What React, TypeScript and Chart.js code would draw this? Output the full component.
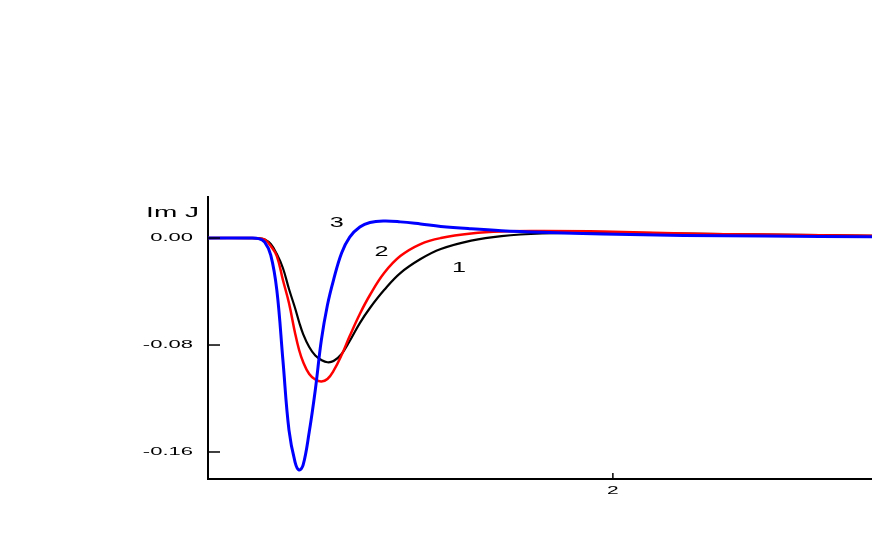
import React, { useEffect, useRef } from "react";
import { Chart, registerables } from "chart.js";

Chart.register(...registerables);

// x positions (data units)
const xValues = [0, 0.2, 0.25, 0.28, 0.31, 0.34, 0.37, 0.4, 0.43, 0.45, 0.47, 0.5, 0.53, 0.56, 0.59, 0.62, 0.66, 0.7, 0.75, 0.8, 0.87, 0.95, 1.05, 1.15, 1.3, 1.45, 1.65, 1.95, 2.35, 2.75, 3.3];

// curve 1 (black)
const curve1 = [0, 0, -0.0002, -0.0011, -0.0045, -0.012, -0.0224, -0.0381, -0.0523, -0.0628, -0.0718, -0.0815, -0.0879, -0.0912, -0.0929, -0.092, -0.0867, -0.077, -0.0636, -0.0523, -0.0389, -0.0262, -0.0157, -0.0082, -0.0019, 0.0015, 0.0034, 0.0041, 0.0034, 0.0026, 0.0017];

// curve 2 (red)
const curve2 = [0, 0, -0.0002, -0.0011, -0.006, -0.0135, -0.0314, -0.0486, -0.071, -0.0837, -0.0927, -0.1017, -0.1058, -0.1073, -0.1054, -0.0994, -0.0875, -0.0733, -0.0568, -0.0426, -0.0262, -0.0135, -0.0045, 0.0, 0.0034, 0.0049, 0.0052, 0.0049, 0.0034, 0.0026, 0.0017];

// curve 3 (blue)
const curve3 = [0, 0, -0.0004, -0.003, -0.0127, -0.0389, -0.0912, -0.1436, -0.1675, -0.1735, -0.1697, -0.1451, -0.1136, -0.0763, -0.0501, -0.0314, -0.0112, 0.0007, 0.0082, 0.0116, 0.0127, 0.0121, 0.0105, 0.0087, 0.0069, 0.0055, 0.0043, 0.003, 0.002, 0.0015, 0.001];

const yTicks = [-0.16, -0.08, 0];
const xTicks = [2];
const yTitle = "Im J";
const curveNames = ["1", "2", "3"];
const curveNameX = [1.24, 0.857, 0.636];
const curveNameY = [-0.0227, -0.0102, 0.0112];

const FONT = '"Liberation Sans", Arial, Helvetica, sans-serif';

function stretchedText(ctx: CanvasRenderingContext2D, text: string, x: number, y: number, size: number, align: CanvasTextAlign, sx: number) {
  ctx.save();
  ctx.translate(x, y);
  ctx.scale(sx, 1);
  ctx.font = `${size}px ${FONT}`;
  ctx.textAlign = align;
  ctx.textBaseline = "middle";
  ctx.fillStyle = "#000";
  ctx.fillText(text, 0, 0);
  ctx.restore();
}

const decorPlugin = {
  id: "decor",
  afterDraw(chart: any) {
    const { ctx, chartArea, scales } = chart;
    const x = scales.x;
    const y = scales.y;
    ctx.save();
    ctx.strokeStyle = "#000";
    ctx.lineWidth = 1.5;
    for (const v of yTicks) {
      const py = y.getPixelForValue(v);
      ctx.beginPath();
      ctx.moveTo(chartArea.left, py);
      ctx.lineTo(chartArea.left + 12, py);
      ctx.stroke();
      stretchedText(ctx, v.toFixed(2), chartArea.left - 15, py, 11, "right", 2);
    }
    for (const v of xTicks) {
      const px = x.getPixelForValue(v);
      ctx.beginPath();
      ctx.moveTo(px, chartArea.bottom);
      ctx.lineTo(px, chartArea.bottom - 6);
      ctx.stroke();
      stretchedText(ctx, String(v), px, chartArea.bottom + 11.5, 11, "center", 1.9);
    }
    stretchedText(ctx, yTitle, chartArea.left - 9, y.getPixelForValue(0.0185), 14, "right", 2);
    curveNames.forEach((name, i) => {
      stretchedText(ctx, name, x.getPixelForValue(curveNameX[i]), y.getPixelForValue(curveNameY[i]), 14, "center", 1.8);
    });
    ctx.restore();
  },
};

export default function App() {
  const canvasRef = useRef<HTMLCanvasElement | null>(null);

  useEffect(() => {
    const canvas = canvasRef.current;
    if (!canvas) return;
    const mk = (arr: number[]) => xValues.map((xv, i) => ({ x: xv, y: arr[i] }));
    const common = { pointRadius: 0, tension: 0.4, fill: false };
    const chart = new Chart(canvas, {
      type: "line",
      data: {
        datasets: [
          { label: "3", data: mk(curve3), borderColor: "#0000ff", borderWidth: 3, ...common },
          { label: "2", data: mk(curve2), borderColor: "#ff0000", borderWidth: 2.5, ...common },
          { label: "1", data: mk(curve1), borderColor: "#000000", borderWidth: 2.2, ...common },
        ],
      },
      options: {
        responsive: false,
        animation: false,
        events: [],
        layout: { padding: { top: 197, left: 0, right: 0, bottom: 0 } },
        plugins: { legend: { display: false }, tooltip: { enabled: false } },
        scales: {
          x: {
            type: "linear",
            min: 0,
            max: 3.28,
            afterBuildTicks: (s: any) => { s.ticks = xTicks.map((v) => ({ value: v })); },
            afterFit: (s: any) => { s.height = 66; },
            ticks: { display: false },
            grid: { display: true, drawOnChartArea: false, drawTicks: false },
            border: { display: true, color: "#000", width: 2 },
          },
          y: {
            type: "linear",
            min: -0.1802,
            max: 0.0307,
            afterBuildTicks: (s: any) => { s.ticks = yTicks.map((v) => ({ value: v })); },
            afterFit: (s: any) => { s.width = 208; },
            ticks: { display: false },
            grid: { display: true, drawOnChartArea: false, drawTicks: false },
            border: { display: true, color: "#000", width: 2 },
          },
        },
      },
      plugins: [decorPlugin],
    } as any);
    return () => chart.destroy();
  }, []);

  return (
    <div style={{ position: "fixed", left: 0, top: 0, width: 872, height: 545, background: "#fff" }}>
      <canvas ref={canvasRef} width={872} height={545} style={{ display: "block", width: 872, height: 545 }} />
    </div>
  );
}
